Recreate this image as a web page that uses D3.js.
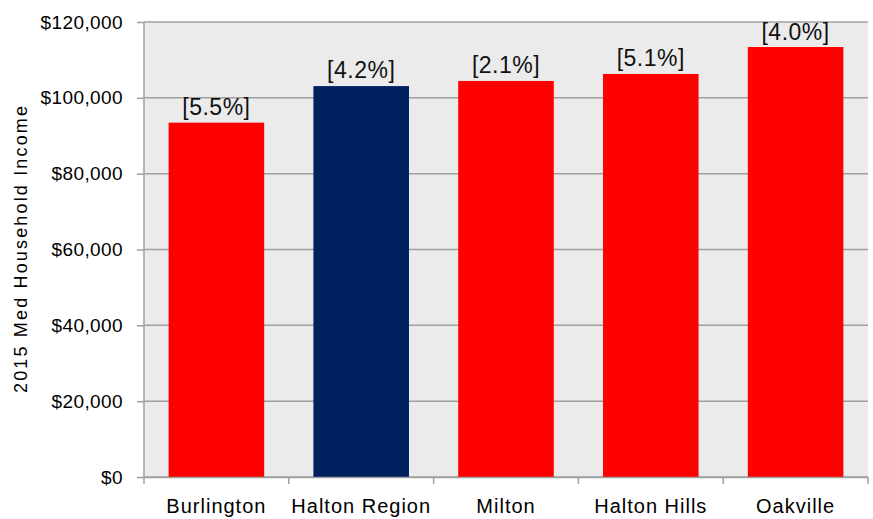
<!DOCTYPE html>
<html>
<head>
<meta charset="utf-8">
<script src="https://cdnjs.cloudflare.com/ajax/libs/d3/7.8.5/d3.min.js"></script>
<style>
  body { margin: 0; background: #fff; }
  text { font-family: "Liberation Sans", Arial, sans-serif; fill: #000; }
</style>
</head>
<body>
<svg id="svg1" width="873" height="519"></svg>
<script>
// data
var places = ["Burlington", "Halton Region", "Milton", "Halton Hills", "Oakville"];
var income = [93450, 103100, 104450, 106300, 113400];
var growth = ["[5.5%]", "[4.2%]", "[2.1%]", "[5.1%]", "[4.0%]"];
var barColors = ["#ff0000", "#002060", "#ff0000", "#ff0000", "#ff0000"];
var yTicks = [0, 20000, 40000, 60000, 80000, 100000, 120000];

var marginLeft = 144;
var marginTop = 22;
var plotW = 724;
var plotH = 455;

var svg = d3.select('#svg1')
    .append('g')
    .attr('transform', 'translate(' + marginLeft + ',' + marginTop + ')');

var scaleX = d3.scaleBand().domain(places).range([0, plotW]).paddingInner(0.34).paddingOuter(0.17);
var scaleY = d3.scaleLinear().domain([0, 120000]).range([plotH, 0]);

// plot background
svg.append('rect')
    .attr('width', plotW)
    .attr('height', plotH)
    .attr('fill', '#ebebeb');

// gridlines
svg.selectAll('.grid')
    .data(yTicks)
    .enter()
    .append('line')
    .attr('x1', 0)
    .attr('x2', plotW)
    .attr('y1', function(d){ return scaleY(d); })
    .attr('y2', function(d){ return scaleY(d); })
    .attr('stroke', '#a0a0a0')
    .attr('stroke-width', 1.5);

// bars
svg.selectAll('.bar')
    .data(income)
    .enter()
    .append('rect')
    .attr('x', function(d, i){ return scaleX(places[i]); })
    .attr('y', function(d){ return scaleY(d); })
    .attr('width', scaleX.bandwidth())
    .attr('height', function(d){ return plotH - scaleY(d); })
    .attr('fill', function(d, i){ return barColors[i]; });

// bar labels
svg.selectAll('.lbl')
    .data(income)
    .enter()
    .append('text')
    .text(function(d, i){ return growth[i]; })
    .attr('x', function(d, i){ return scaleX(places[i]) + scaleX.bandwidth() / 2; })
    .attr('y', function(d){ return Math.max(scaleY(d) - 8, 18); })
    .style('text-anchor', 'middle')
    .style('font-size', '23px')
    .style('letter-spacing', '0.5px')
    .style('fill', '#111');

// y axis
var yAxis = svg.append('g')
    .call(d3.axisLeft(scaleY).tickValues(yTicks).tickSize(7).tickPadding(14)
        .tickFormat(function(d){ return '$' + d3.format(',')(d); }));
yAxis.select('.domain').attr('stroke', '#a0a0a0').attr('stroke-width', 1.5).attr('d', 'M0,0V' + plotH);
yAxis.selectAll('line').attr('stroke', '#a0a0a0').attr('stroke-width', 1.5);
yAxis.selectAll('text').style('font-size', '19px').style('letter-spacing', '0.4px')
    .style('font-family', '"Liberation Sans", Arial, sans-serif').attr('fill', '#000');

// x axis
var xAxis = svg.append('g')
    .attr('transform', 'translate(0,' + plotH + ')')
    .call(d3.axisBottom(scaleX).tickSize(0).tickPadding(22));
xAxis.select('.domain').attr('stroke', '#a0a0a0').attr('stroke-width', 1.5);
xAxis.selectAll('text').style('font-size', '20px').style('letter-spacing', '1px')
    .style('font-family', '"Liberation Sans", Arial, sans-serif').attr('fill', '#000');

// x tick marks between categories
var xEdges = [0, 1, 2, 3, 4, 5];
svg.selectAll('.xt')
    .data(xEdges)
    .enter()
    .append('line')
    .attr('x1', function(d){ return d * plotW / 5; })
    .attr('x2', function(d){ return d * plotW / 5; })
    .attr('y1', plotH)
    .attr('y2', plotH + 7)
    .attr('stroke', '#a0a0a0')
    .attr('stroke-width', 1.5);

// axis title
svg.append('text')
    .text('2015 Med Household Income')
    .attr('transform', 'translate(' + (-117) + ',' + (plotH / 2) + ')rotate(270)')
    .attr('textLength', 287)
    .attr('lengthAdjust', 'spacing')
    .style('text-anchor', 'middle')
    .style('font-size', '18px');
</script>
</body>
</html>
